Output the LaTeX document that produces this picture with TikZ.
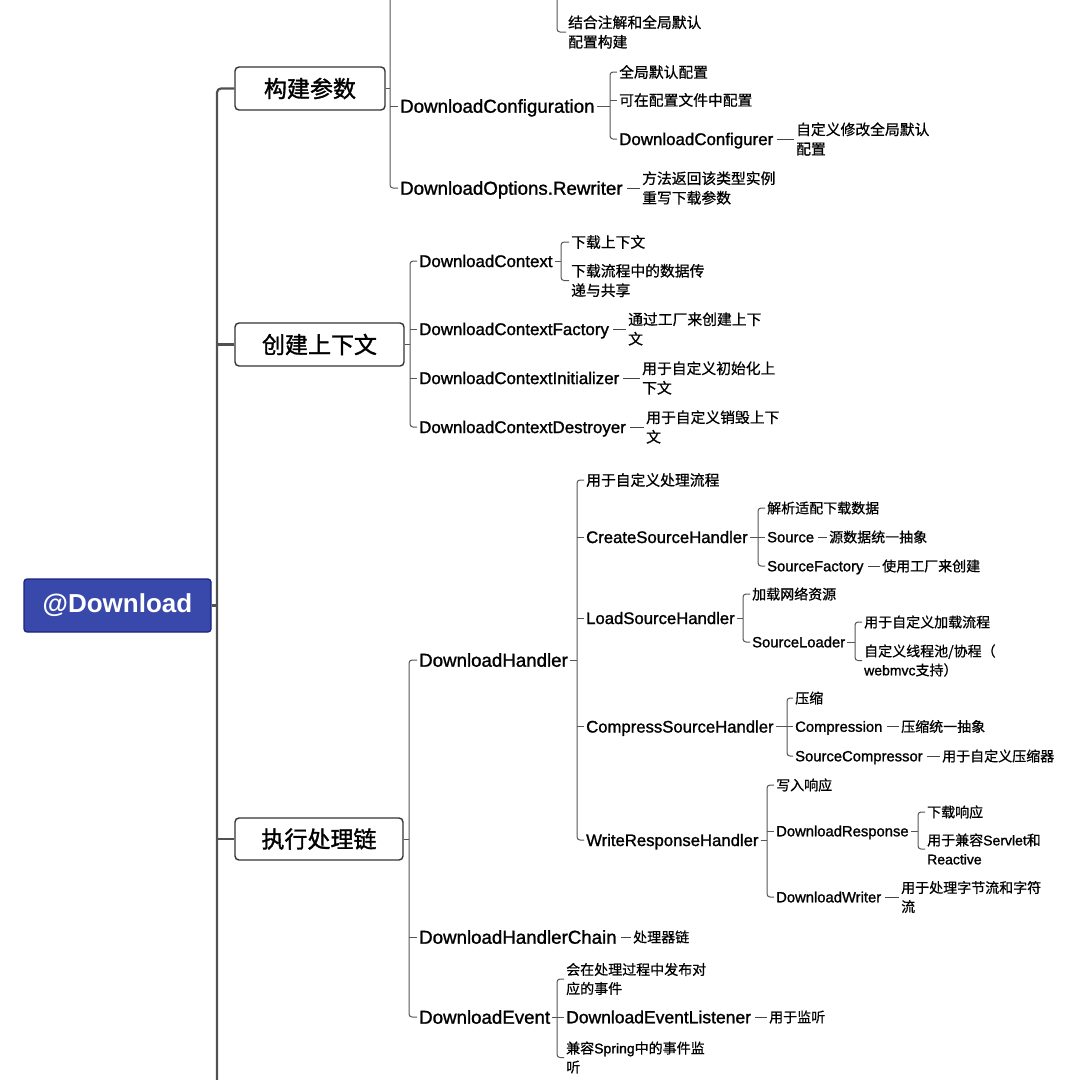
\documentclass[tikz,border=0pt]{standalone}
\usepackage{fontspec}
\setmainfont[RawFeature={embolden=0.7}]{Noto Sans CJK SC}
\newfontfamily\lat[RawFeature={embolden=1.3}]{Liberation Sans}
\newfontfamily\latb{Liberation Sans}
\newfontfamily\cjkm[RawFeature={embolden=1.4}]{Noto Sans CJK SC}
\definecolor{trunkc}{HTML}{505050}
\definecolor{brc}{HTML}{555555}
\definecolor{lnkc}{HTML}{444444}
\definecolor{boxc}{HTML}{333333}
\definecolor{rootf}{HTML}{3949AB}
\definecolor{rootd}{HTML}{1A237E}
\newcommand\brak[4]{\draw[br] (#1.east) -- (#1.east -| #2); \draw[br] (#3.west) -- (#3.west -| #2) -- (#4.west -| #2) -- (#4.west);}
\newcommand\midc[2]{\draw[br] (#2.west -| #1) -- (#2.west);}
\tikzset{
  trunk/.style={draw=trunkc, line width=2.2pt, rounded corners=4pt},
  br/.style={draw=brc, line width=1pt, rounded corners=3pt},
  lnk/.style={draw=lnkc, line width=1pt, shorten <=2pt},
  lvone/.style={draw=boxc, line width=1.4pt, rounded corners=4pt, fill=white,
    font=\cjkm\fontsize{23}{27}\selectfont, inner sep=0pt, minimum height=43pt},
  txt/.style={anchor=west, inner xsep=2pt, inner ysep=0pt},
  la/.style={txt, font=\lat\fontsize{18.7}{22}\selectfont, text height=13.4pt, text depth=0pt},
  lb/.style={txt, font=\lat\fontsize{16.9}{20}\selectfont, text height=12.1pt, text depth=0pt},
  lc/.style={txt, font=\lat\fontsize{16.7}{20}\selectfont, text height=12.0pt, text depth=0pt},
  ld/.style={txt, font=\lat\fontsize{14.8}{18}\selectfont, text height=10.6pt, text depth=0pt},
  le/.style={txt, font=\lat\fontsize{17.5}{21}\selectfont, text height=12.5pt, text depth=0pt},
  ca/.style={txt, align=left, font=\fontsize{14.8}{19.5}\selectfont},
  cb/.style={txt, align=left, font=\fontsize{14}{19}\selectfont},
}
\begin{document}
\begin{tikzpicture}[x=1pt,y=-1pt]
\useasboundingbox (0,0) rectangle (1080,1080);
\fill[white] (0,0) rectangle (1080,1080);

% root and level one
\node[draw=rootd, fill=rootf, rounded corners=3pt, minimum width=187pt, minimum height=53pt,
  inner sep=0pt, text=white, line width=1.2pt, font=\latb\bfseries\fontsize{26}{30}\selectfont]
  (root) at (117.5,605.5) {@Download};
\node[lvone, minimum width=150pt] (k1) at (310,88.5) {构建参数};
\node[lvone, minimum width=169pt] (k2) at (319.5,344.5) {创建上下文};
\node[lvone, minimum width=168pt, minimum height=42pt] (k3) at (319,839) {执行处理链};

\coordinate (tx) at (217,1100);
\draw[trunk] (k1.west) -- (k1.west -| tx) -- (tx);
\draw[trunk] (tx |- k2.west) -- (k2.west);
\draw[trunk] (tx |- k3.west) -- (k3.west);
\draw[trunk] (root.east) -- (root.east -| tx);

% section 1
\coordinate (bx1) at (390,0);
\coordinate (h1) at (390,-40);
\node[la] (dc) at (398,106) {DownloadConfiguration};
\node[la] (dor) at (398,188) {DownloadOptions.Rewriter};
\coordinate (bx2) at (610,0);
\node[ca] (c11) at (617,72) {全局默认配置};
\node[ca] (c12) at (617,100) {可在配置文件中配置};
\node[lb] (c13) at (617,139) {DownloadConfigurer};
\node[ca] (c131) at (794,139) {自定义修改全局默认\\配置};
\node[ca] (r1) at (640,188) {方法返回该类型实例\\重写下载参数};
\coordinate (h2) at (557,-20);
\node[ca] (t0) at (566,32) {结合注解和全局默认\\配置构建};

\draw[br] (k1.east) -- (k1.east -| bx1);
\draw[br] (h1) -- (dor.west -| bx1) -- (dor.west);
\midc{bx1}{dc}
\brak{dc}{bx2}{c11}{c13}
\midc{bx2}{c12}
\draw[lnk] (c13.east) -- (c131.west);
\draw[lnk] (dor.east) -- (r1.west);
\draw[br] (h2) -- (t0.west -| h2) -- (t0.west);

% section 2
\coordinate (bx3) at (410,0);
\node[lb] (d1) at (417,261) {DownloadContext};
\node[lb] (d2) at (417,329) {DownloadContextFactory};
\node[lb] (d3) at (417,378) {DownloadContextInitializer};
\node[lb] (d4) at (417,427) {DownloadContextDestroyer};
\coordinate (bx4) at (561,0);
\node[ca] (d11) at (569,242) {下载上下文};
\node[ca] (d12) at (569,280.5) {下载流程中的数据传\\递与共享};
\node[ca] (d21) at (626,329) {通过工厂来创建上下\\文};
\node[ca] (d31) at (640,378) {用于自定义初始化上\\下文};
\node[ca] (d41) at (644,427) {用于自定义销毁上下\\文};

\brak{k2}{bx3}{d1}{d4}
\midc{bx3}{d2}
\midc{bx3}{d3}
\brak{d1}{bx4}{d11}{d12}
\draw[lnk] (d2.east) -- (d21.west);
\draw[lnk] (d3.east) -- (d31.west);
\draw[lnk] (d4.east) -- (d41.west);

% section 3
\coordinate (bx5) at (409,0);
\node[la] (e1) at (417,660) {DownloadHandler};
\node[la] (e2) at (417,937) {DownloadHandlerChain};
\node[la] (e3) at (417,1017) {DownloadEvent};
\brak{k3}{bx5}{e1}{e3}
\midc{bx5}{e2}

\coordinate (bx6) at (577,0);
\node[ca] (f0) at (584,480) {用于自定义处理流程};
\node[lc] (f1) at (584,537) {CreateSourceHandler};
\node[lc] (f2) at (584,618) {LoadSourceHandler};
\node[lc] (f3) at (584,726.5) {CompressSourceHandler};
\node[lc] (f4) at (584,840) {WriteResponseHandler};
\brak{e1}{bx6}{f0}{f4}
\midc{bx6}{f1}
\midc{bx6}{f2}
\midc{bx6}{f3}

\coordinate (bx7) at (758,0);
\node[cb] (g11) at (765,508) {解析适配下载数据};
\node[ld] (g12) at (765,537) {Source};
\node[ld] (g13) at (765,566) {SourceFactory};
\node[cb] (g121) at (827,537) {源数据统一抽象};
\node[cb] (g131) at (880,566) {使用工厂来创建};
\brak{f1}{bx7}{g11}{g13}
\midc{bx7}{g12}
\draw[lnk] (g12.east) -- (g121.west);
\draw[lnk] (g13.east) -- (g131.west);

\coordinate (bx8) at (743,0);
\node[cb] (g21) at (750,594) {加载网络资源};
\node[ld] (g22) at (750,642) {SourceLoader};
\brak{f2}{bx8}{g21}{g22}
\coordinate (bx9) at (855,0);
\node[cb] (g221) at (862,622) {用于自定义加载流程};
\node[cb] (g222) at (862,660.5) {自定义线程池/协程（\\{\lat webmvc}支持）};
\brak{g22}{bx9}{g221}{g222}

\coordinate (bx10) at (787,0);
\node[cb] (g31) at (793,698) {压缩};
\node[ld] (g32) at (793,726.5) {Compression};
\node[ld] (g33) at (793,756) {SourceCompressor};
\node[cb] (g321) at (899,726.5) {压缩统一抽象};
\node[cb] (g331) at (940,756) {用于自定义压缩器};
\brak{f3}{bx10}{g31}{g33}
\midc{bx10}{g32}
\draw[lnk] (g32.east) -- (g321.west);
\draw[lnk] (g33.east) -- (g331.west);

\coordinate (bx11) at (767,0);
\node[cb] (g41) at (774,785) {写入响应};
\node[ld] (g42) at (774,831) {DownloadResponse};
\node[ld] (g43) at (774,897) {DownloadWriter};
\brak{f4}{bx11}{g41}{g43}
\midc{bx11}{g42}
\coordinate (bx12) at (918,0);
\node[cb] (g421) at (925,812) {下载响应};
\node[cb] (g422) at (925,849) {用于兼容{\lat Servlet}和\\{\lat Reactive}};
\brak{g42}{bx12}{g421}{g422}
\node[cb] (g431) at (899,897) {用于处理字节流和字符\\流};
\draw[lnk] (g43.east) -- (g431.west);

\node[cb] (e21) at (631,937) {处理器链};
\draw[lnk] (e2.east) -- (e21.west);

\coordinate (bx13) at (557,0);
\node[cb] (h31) at (564,979) {会在处理过程中发布对\\应的事件};
\node[le] (h32) at (564,1017) {DownloadEventListener};
\node[cb] (h33) at (564,1057.5) {兼容{\lat Spring}中的事件监\\听};
\node[cb] (h321) at (767,1017) {用于监听};
\brak{e3}{bx13}{h31}{h33}
\midc{bx13}{h32}
\draw[lnk] (h32.east) -- (h321.west);
\end{tikzpicture}
\end{document}
